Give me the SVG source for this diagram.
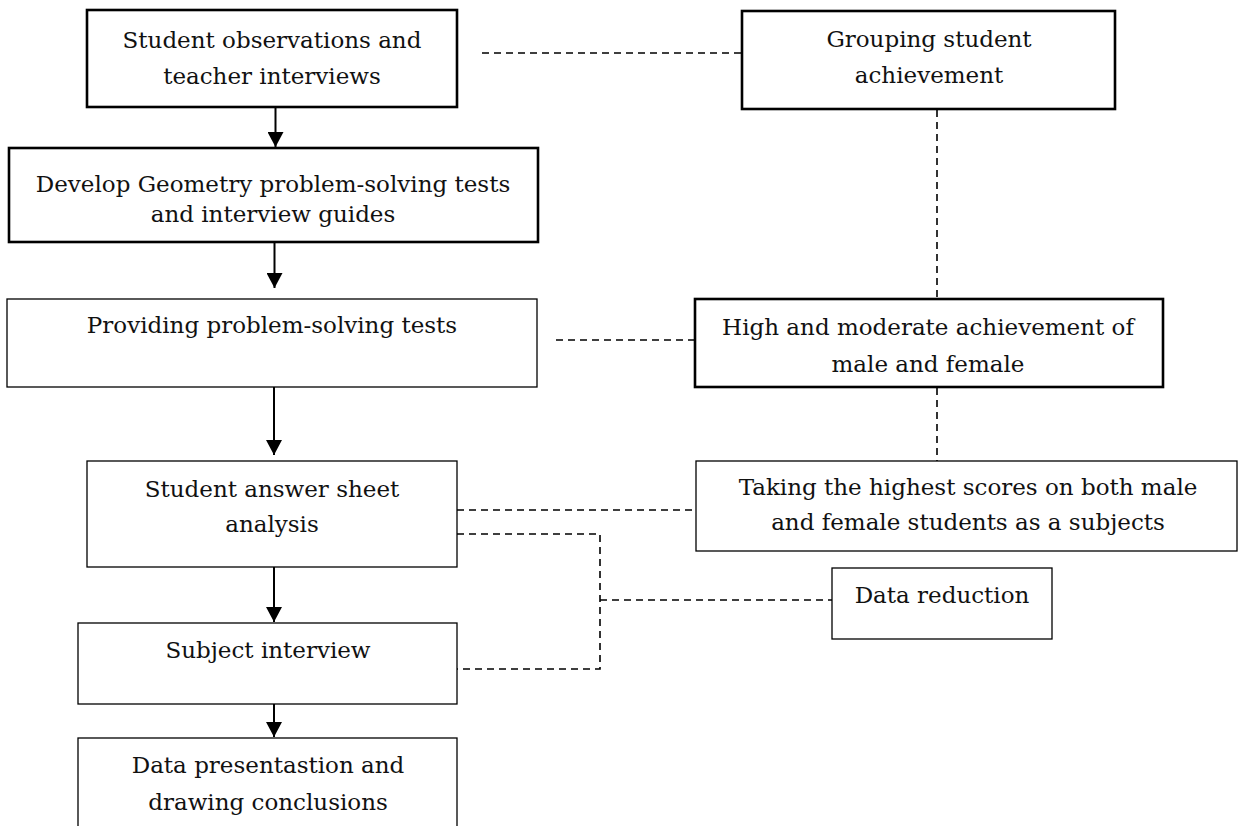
<svg xmlns="http://www.w3.org/2000/svg" width="1239" height="826" viewBox="0 0 1239 826">
<style>
  .thick { fill: #fff; stroke: #000; stroke-width: 2.6; }
  .thin { fill: #fff; stroke: #000; stroke-width: 1.3; }
  .lbl { font-family: "DejaVu Serif", "Liberation Serif", serif; font-size: 23px; fill: #111; text-anchor: middle; }
  .flow { stroke: #000; stroke-width: 2; fill: none; }
  .dash { stroke: #000; stroke-width: 1.6; fill: none; stroke-dasharray: 7 5; }
</style>
<defs>
  <marker id="arr" markerUnits="userSpaceOnUse" markerWidth="16" markerHeight="16" refX="15" refY="8" orient="auto">
    <path d="M0,0 L15,8 L0,16 Z" fill="#000"/>
  </marker>
</defs>
<rect width="1239" height="826" fill="#fff"/>
<g id="connectors">
  <line class="flow" x1="275.5" y1="108" x2="275.5" y2="147" marker-end="url(#arr)"/>
  <line class="flow" x1="274.5" y1="243" x2="274.5" y2="288" marker-end="url(#arr)"/>
  <line class="flow" x1="274" y1="387" x2="274" y2="455" marker-end="url(#arr)"/>
  <line class="flow" x1="274" y1="567" x2="274" y2="622" marker-end="url(#arr)"/>
  <line class="flow" x1="274" y1="704" x2="274" y2="737" marker-end="url(#arr)"/>
  <line class="dash" x1="482" y1="53" x2="742" y2="53"/>
  <line class="dash" x1="937" y1="110" x2="937" y2="298"/>
  <line class="dash" x1="556" y1="340" x2="694" y2="340"/>
  <line class="dash" x1="937" y1="388" x2="937" y2="461"/>
  <line class="dash" x1="457" y1="510" x2="696" y2="510"/>
  <polyline class="dash" points="457,534 600,534 600,669 457,669"/>
  <line class="dash" x1="600" y1="600" x2="832" y2="600"/>
</g>
<g id="n1">
  <rect class="thick" x="87" y="10" width="370" height="97"/>
  <text class="lbl" x="272" y="48">Student observations and</text>
  <text class="lbl" x="272" y="84">teacher interviews</text>
</g>
<g id="n2">
  <rect class="thick" x="9" y="148" width="529" height="94"/>
  <text class="lbl" x="273" y="192">Develop Geometry problem-solving tests</text>
  <text class="lbl" x="273" y="222">and interview guides</text>
</g>
<g id="n3">
  <rect class="thin" x="7" y="299" width="530" height="88"/>
  <text class="lbl" x="272" y="333">Providing problem-solving tests</text>
</g>
<g id="n4">
  <rect class="thin" x="87" y="461" width="370" height="106"/>
  <text class="lbl" x="272" y="497">Student answer sheet</text>
  <text class="lbl" x="272" y="532">analysis</text>
</g>
<g id="n5">
  <rect class="thin" x="78" y="623" width="379" height="81"/>
  <text class="lbl" x="268" y="658">Subject interview</text>
</g>
<g id="n6">
  <rect class="thin" x="78" y="738" width="379" height="100"/>
  <text class="lbl" x="268" y="773">Data presentastion and</text>
  <text class="lbl" x="268" y="810">drawing conclusions</text>
</g>
<g id="n7">
  <rect class="thick" x="742" y="11" width="373" height="98"/>
  <text class="lbl" x="929" y="47">Grouping student</text>
  <text class="lbl" x="929" y="83">achievement</text>
</g>
<g id="n8">
  <rect class="thick" x="695" y="299" width="468" height="88"/>
  <text class="lbl" x="928" y="335">High and moderate achievement of</text>
  <text class="lbl" x="928" y="372">male and female</text>
</g>
<g id="n9">
  <rect class="thin" x="696" y="461" width="541" height="90"/>
  <text class="lbl" x="968" y="495">Taking the highest scores on both male</text>
  <text class="lbl" x="968" y="530">and female students as a subjects</text>
</g>
<g id="n10">
  <rect class="thin" x="832" y="568" width="220" height="71"/>
  <text class="lbl" x="942" y="603">Data reduction</text>
</g>
</svg>
